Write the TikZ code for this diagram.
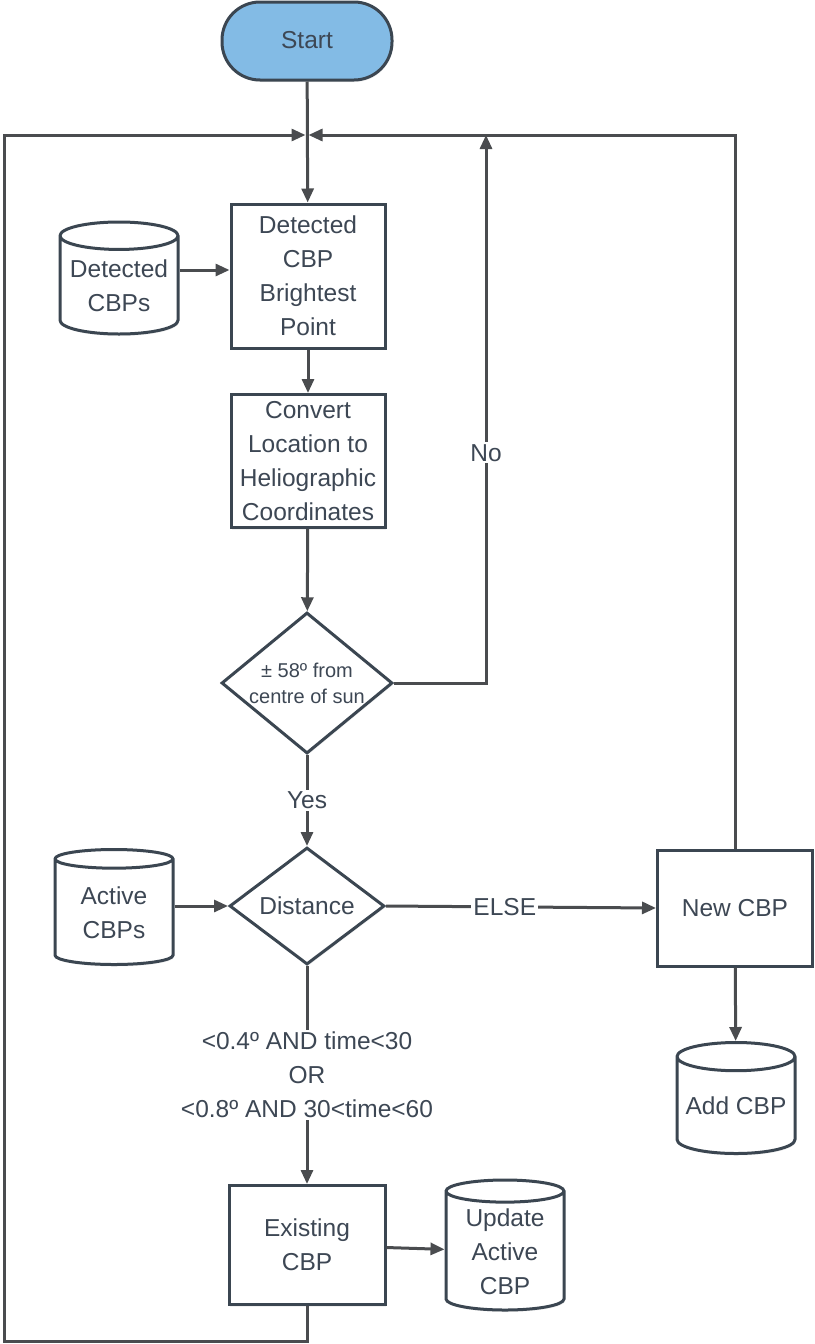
\documentclass[tikz,border=0pt]{standalone}
\usepackage{fontspec}
\setmainfont{Liberation Sans}
\usetikzlibrary{shapes.geometric,arrows.meta,shadows}
\definecolor{edge}{HTML}{3B4651}
\definecolor{ink}{HTML}{3D4754}
\definecolor{wire}{HTML}{4A4C4F}
\definecolor{startblue}{HTML}{83BBE5}
\begin{document}
\begin{tikzpicture}[x=1pt,y=-1pt,
  every node/.style={text=ink,font=\fontsize{24.5}{34}\selectfont},
  shade/.style={drop shadow={opacity=0.12,shadow xshift=1pt,shadow yshift=-2pt}},
  terminal/.style={draw=edge,line width=3pt,fill=startblue,rounded corners=38pt,minimum width=170,minimum height=78,shade},
  process/.style={draw=edge,line width=3pt,fill=white,align=center,inner sep=0pt,shade},
  decision/.style={diamond,draw=edge,line width=3pt,fill=white,align=center,inner sep=0pt,shade},
  store/.style={cylinder,shape border rotate=90,aspect=0.28,anchor=shape center,draw=edge,line width=3pt,fill=white,align=center,inner sep=0pt,shade},
  flow/.style={draw=wire,line width=3pt,-{Triangle[length=14pt,width=12pt]}},
  tag/.style={fill=white,inner sep=2pt,align=center}]
\useasboundingbox (0,0) rectangle (814,1344);

\node[terminal] (start) at (307,41) {\raisebox{2pt}{Start}};
\node[process,minimum width=154,minimum height=144] (bright) at (308,276) {Detected\\CBP\\Brightest\\Point};
\node[store,minimum width=118,minimum height=112] (detcbp) at (119,278) {Detected\\CBPs};
\node[process,minimum width=154,minimum height=133] (helio) at (308,461) {Convert\\Location to\\Heliographic\\Coordinates};
\node[decision,aspect=1.2,minimum width=171,minimum height=141,font=\fontsize{20}{26}\selectfont] (limb) at (307,683) {± 58º from\\centre of sun};
\node[decision,aspect=1.33,minimum width=155,minimum height=117] (dist) at (307,906) {Distance};
\node[store,minimum width=118,minimum height=115] (actcbp) at (114,907) {Active\\CBPs};
\node[process,minimum width=155,minimum height=116] (newcbp) at (735,908) {New CBP};
\node[store,minimum width=118,minimum height=111] (addcbp) at (736,1098) {Add CBP};
\node[process,minimum width=156,minimum height=119] (exist) at (307,1245) {Existing\\CBP};
\node[store,minimum width=118,minimum height=130] (update) at (505,1245) {Update\\Active\\CBP};

\coordinate (join) at (307,135);
\coordinate (notop) at (486,135);
\coordinate (botleft) at (4,1341);
\coordinate (dcin) at ([yshift=6pt]bright.west);

\draw[flow] (start) -- (bright);
\draw[flow] (detcbp.east |- dcin) -- (dcin);
\draw[flow] (bright) -- (helio);
\draw[flow] (helio) -- (limb);
\draw[flow] (limb.east) -| node[pos=0.71,tag] {No} (notop);
\draw[flow] (limb) -- node[tag] {Yes} (dist);
\draw[flow] (actcbp.east |- dist.west) -- (dist.west);
\draw[flow] (dist.east) -- node[pos=0.44,tag] {ELSE} (newcbp.west);
\draw[flow] (newcbp) -- (addcbp);
\draw[flow] (dist) -- node[tag] {<0.4º AND time<30\\OR\\<0.8º AND 30<time<60} (exist);
\draw[flow] (exist) -- (update);
\draw[flow,shorten >=1.5pt] (newcbp.north) |- (join);
\draw[flow,shorten >=1.5pt] (exist.south) |- (botleft) |- (join);
\end{tikzpicture}
\end{document}
